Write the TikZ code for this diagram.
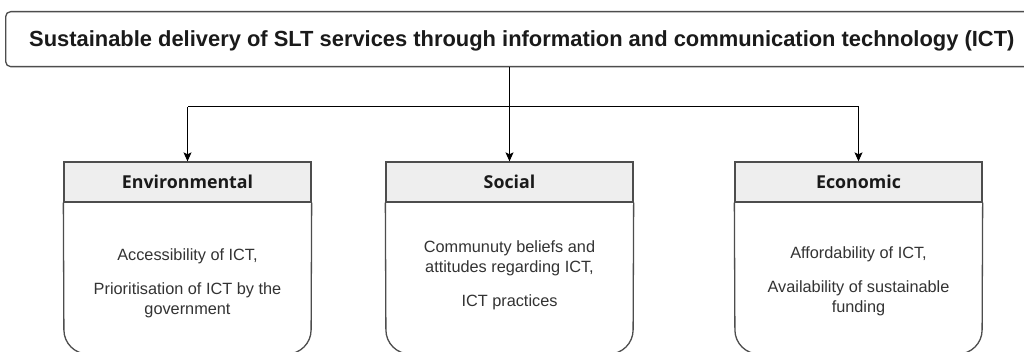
\documentclass[tikz,border=0pt]{standalone}
\usepackage{fontspec}
\setmainfont{Liberation Sans}
\newfontfamily\headfont{Open Sans}[BoldFont={* Bold}]
\usetikzlibrary{arrows.meta}
\definecolor{boxgray}{RGB}{77,77,77}
\definecolor{headfill}{RGB}{238,238,238}
\definecolor{txtgray}{RGB}{51,51,51}
\definecolor{titlecol}{RGB}{26,26,26}
\tikzset{
  boxline/.style={draw=boxgray, line width=1.3pt},
  headbox/.style={boxline, fill=headfill, minimum width=247pt, minimum height=40pt, inner sep=0pt,
    font=\headfont\bfseries\fontsize{17.8}{20}\selectfont, text=titlecol},
  bodytext/.style={align=center, inner sep=0pt, text=txtgray, anchor=north,
    font=\fontsize{16.3}{20}\selectfont},
  conn/.style={draw=black, line width=1pt, -{Stealth[length=9pt,width=8pt,inset=2pt]}},
  plain/.style={draw=black, line width=1pt}
}
\begin{document}
\begin{tikzpicture}[x=1pt,y=-1pt]
\useasboundingbox (0,0) rectangle (1024,352);
\clip (0,0) rectangle (1024,352);
\fill[white] (0,0) rectangle (1024,352);
% top box
\node[boxline, rounded corners=5pt, minimum width=1040pt, minimum height=55pt, anchor=north west, inner sep=0pt] (top) at (5,11) {};
\node[anchor=base west, inner sep=0pt, text=titlecol, font=\bfseries\fontsize{21.9}{24}\selectfont] (title) at (29,46.5) {Sustainable delivery of SLT services through information and communication technology (ICT)};
% headers
\node[headbox] (envh) at (187.5,182) {Environmental};
\node[headbox] (soch) at (509.5,182) {Social};
\node[headbox] (ecoh) at (858.5,182) {Economic};
% bodies
\draw[boxline, rounded corners=24pt] (envh.south west) -- (64,354) -- (311,354) -- (envh.south east);
\draw[boxline, rounded corners=24pt] (soch.south west) -- (386,354) -- (633,354) -- (soch.south east);
\draw[boxline, rounded corners=24pt] (ecoh.south west) -- (735,354) -- (982,354) -- (ecoh.south east);
\node[bodytext] (envt) at (187.5,248) {Accessibility of ICT,\\[14pt] Prioritisation of ICT by the\\ government};
\node[bodytext] (soct) at (509.5,240) {Communuty beliefs and\\ attitudes regarding ICT,\\[14pt] ICT practices};
\node[bodytext] (ecot) at (858.5,246) {Affordability of ICT,\\[14pt] Availability of sustainable\\ funding};
% connectors
\coordinate (split) at (510,107);
\draw[conn] (soch.north |- top.south) -- (soch.north);
\draw[plain] (split) -- (split -| envh.north);
\draw[plain] (split) -- (split -| ecoh.north);
\draw[conn] (split -| envh.north) -- (envh.north);
\draw[conn] (split -| ecoh.north) -- (ecoh.north);
\end{tikzpicture}
\end{document}
